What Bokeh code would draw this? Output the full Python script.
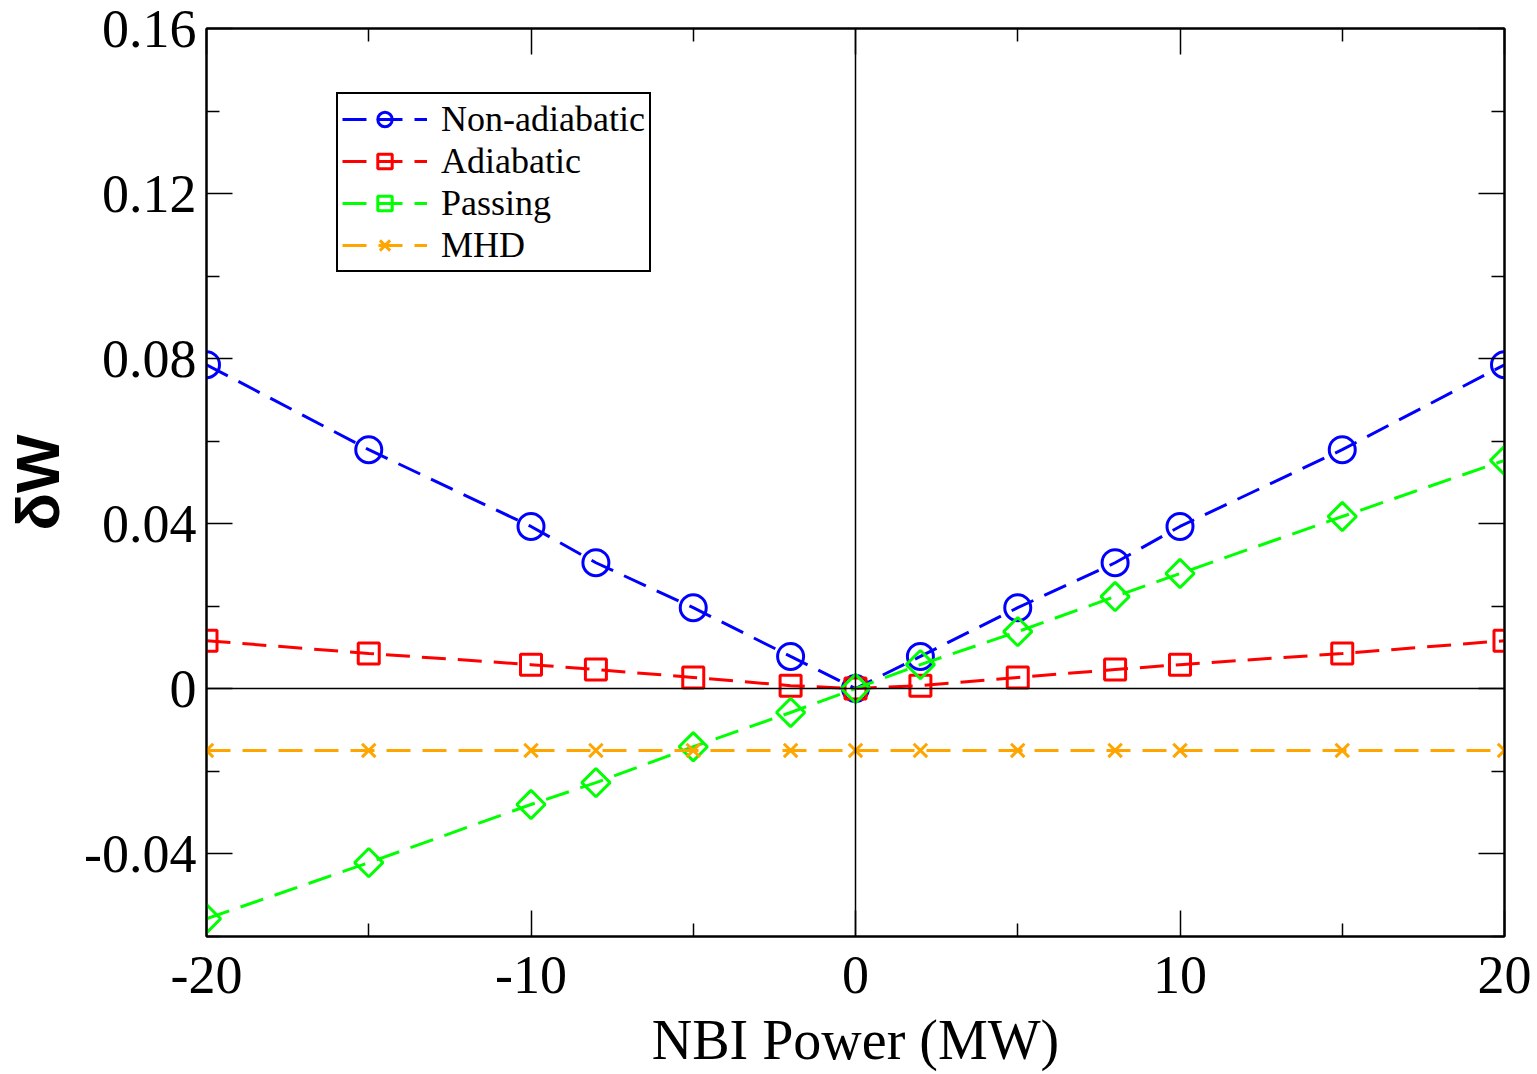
import numpy as np
from bokeh.plotting import figure
from bokeh.models import (FixedTicker, LinearAxis, Span, Legend, LegendItem, Range1d,
                          CustomLabelingPolicy)
from bokeh.embed import file_html
from bokeh.resources import INLINE

# ---- data ----
power = [-20, -15, -10, -8, -5, -2, 0, 2, 5, 8, 10, 15, 20]
non_adiabatic = [0.0785, 0.0579, 0.0393, 0.0305, 0.0196, 0.0078, 0.0,
                 0.0078, 0.0196, 0.0305, 0.0393, 0.0579, 0.0785]
adiabatic = [0.0116, 0.0085, 0.0058, 0.0046, 0.0027, 0.0007, 0.0,
             0.0007, 0.0027, 0.0046, 0.0058, 0.0085, 0.0116]
passing = [-0.0558, -0.0422, -0.0281, -0.0228, -0.0141, -0.0058, 0.0,
           0.0058, 0.0138, 0.0223, 0.0279, 0.0417, 0.0553]
mhd = [-0.015] * 13

x_ticks = [-20, -10, 0, 10, 20]
x_tick_labels = ["-20", "-10", "0", "10", "20"]
x_minor = [-15, -5, 5, 15]
y_ticks = [-0.04, 0.0, 0.04, 0.08, 0.12, 0.16]
y_tick_labels = ["-0.04", "0", "0.04", "0.08", "0.12", "0.16"]
y_minor = [-0.06, -0.02, 0.02, 0.06, 0.10, 0.14]

SERIF = "Liberation Serif"

p = figure(frame_width=1298, frame_height=908,
           x_range=Range1d(-20, 20), y_range=Range1d(-0.0601, 0.16),
           output_backend="svg", toolbar_location=None,
           min_border_left=206, min_border_right=33, min_border_top=28, min_border_bottom=138)
p.background_fill_color = "white"
p.border_fill_color = "white"
p.xgrid.visible = False
p.ygrid.visible = False
p.outline_line_color = "black"
p.outline_line_width = 2

xt = FixedTicker(ticks=x_ticks, minor_ticks=x_minor)
yt = FixedTicker(ticks=y_ticks, minor_ticks=y_minor)

def style_axis(ax, labels=True):
    ax.axis_line_color = "black"
    ax.axis_line_width = 2
    ax.major_tick_in = 26
    ax.major_tick_out = 0
    ax.minor_tick_in = 13
    ax.minor_tick_out = 0
    ax.major_tick_line_width = 1.5
    ax.minor_tick_line_width = 1.5
    ax.major_tick_line_color = "black"
    ax.minor_tick_line_color = "black"
    ax.major_label_text_font = SERIF
    ax.major_label_text_color = "black"
    if labels:
        ax.major_label_text_font_size = "54px"
    else:
        # tick marks only on the mirrored axes
        ax.major_label_text_font_size = "10px"
        ax.major_label_policy = CustomLabelingPolicy(
            code="for (const i of Array.from(indices)) { indices.unset(i) }; return indices")
        ax.major_label_standoff = 0

xa = p.xaxis[0]
xa.ticker = xt
style_axis(xa)
xa.major_label_standoff = 20
xa.major_label_overrides = {t: l for t, l in zip(x_ticks, x_tick_labels)}
xa.axis_label = "NBI Power (MW)"
xa.axis_label_text_font = SERIF
xa.axis_label_text_font_size = "56px"
xa.axis_label_text_font_style = "normal"
xa.axis_label_text_color = "black"
xa.axis_label_standoff = 13

ya = p.yaxis[0]
ya.ticker = yt
style_axis(ya)
ya.major_label_standoff = 10
ya.major_label_overrides = {t: l for t, l in zip(y_ticks, y_tick_labels)}
ya.axis_label = "δW"
ya.axis_label_text_font = "Liberation Sans"
ya.axis_label_text_font_size = "62px"
ya.axis_label_text_font_style = "bold"
ya.axis_label_text_color = "black"
ya.axis_label_standoff = 9

top = LinearAxis(ticker=xt)
style_axis(top, labels=False)
p.add_layout(top, "above")
right = LinearAxis(ticker=yt)
style_axis(right, labels=False)
p.add_layout(right, "right")

p.add_layout(Span(location=0, dimension="width", line_color="black", line_width=1.5))
p.add_layout(Span(location=0, dimension="height", line_color="black", line_width=1.5))

dash = "24 12"
series = [
    ("Non-adiabatic", non_adiabatic, "#0000FF", "circle", 26, 0),
    ("Adiabatic", adiabatic, "#FF0000", "square", 21, 0),
    ("Passing", passing, "#00FF00", "square", 20, np.pi / 4),
    ("MHD", mhd, "#FFA500", "x", 19, 0),
]
items = []
for name, ys, color, marker, size, ang in series:
    ln = p.line(power, ys, line_color=color, line_width=3, line_dash=dash)
    sc = p.scatter(power, ys, marker=marker, size=size, angle=ang,
                   fill_color=None, line_color=color, line_width=3)
    items.append(LegendItem(label=name, renderers=[ln, sc]))

legend = Legend(items=items, location=(130, 664))
legend.label_text_font = SERIF
legend.label_text_font_size = "36px"
legend.label_text_color = "black"
legend.glyph_width = 85
legend.glyph_height = 36
legend.label_height = 36
legend.label_standoff = 14
legend.spacing = 0
legend.padding = 4
legend.margin = 0
legend.border_line_color = "black"
legend.border_line_alpha = 1
legend.border_line_width = 2
legend.background_fill_alpha = 1
p.add_layout(legend, "center")

open("out.html", "w").write(file_html(p, INLINE))
